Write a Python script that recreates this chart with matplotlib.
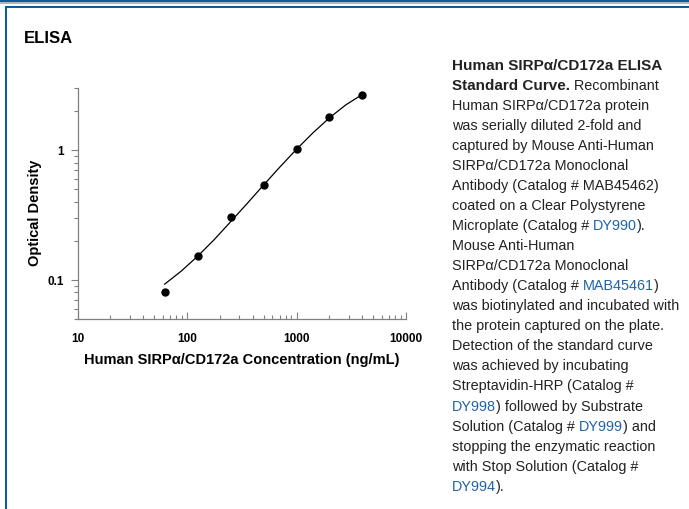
import numpy as np
import matplotlib
matplotlib.use("Agg")
import matplotlib.pyplot as plt
from matplotlib.patches import Rectangle
from matplotlib.ticker import LogLocator, NullFormatter, FixedLocator, FixedFormatter

plt.rcParams['font.family'] = ['Liberation Sans', 'DejaVu Sans']

# Standard points (ng/mL, OD)
conc = [62.5, 125, 250, 500, 1000, 2000, 4000]
od = [0.0814, 0.153, 0.305, 0.535, 1.02, 1.78, 2.67]

# Fitted curve
curve_conc = [62.5, 88.4, 125, 177, 250, 354, 500, 707, 1000, 1414, 2000, 2828, 4000]
curve_od = [0.0927, 0.1167, 0.152, 0.204, 0.280, 0.387, 0.537, 0.741, 1.012, 1.355, 1.770, 2.228, 2.679]

xticks = [10, 100, 1000, 10000]
yticks = [0.1, 1]

BLUE = '#0f5c9c'
LINK = '#1f63a8'
TXT = '#222222'

fig = plt.figure(figsize=(6.89, 5.10), dpi=100)
W, H = 689, 510

def px_rect(x0, y0, x1, y1, color):
    fig.patches.append(Rectangle((x0 / W, 1 - y1 / H), (x1 - x0) / W, (y1 - y0) / H,
                                 transform=fig.transFigure, color=color, lw=0, zorder=0))

# page frame
px_rect(0, 0, W, 3.3, BLUE)
px_rect(0, 3.3, W, 5.3, '#b5b5b5')
px_rect(4.5, 6.7, W, 8.5, BLUE)
px_rect(4.5, 6.7, 6.5, H, BLUE)

fig.text(24 / W, 1 - 38.5 / H, 'ELISA', fontsize=12, fontweight='bold', va='center', ha='left')

# chart
ax = fig.add_axes([77.5 / W, 1 - 320 / H, (406 - 77.5) / W, (320 - 89) / H])
ax.plot(curve_conc, curve_od, color='black', lw=0.9)
ax.plot(conc, od, 'o', color='black', ms=5)
ax.set_xscale('log')
ax.set_yscale('log')
ax.set_xlim(10, 10000)
ax.set_ylim(0.05, 3.0)
for s in ['top', 'right']:
    ax.spines[s].set_visible(False)
for s in ['left', 'bottom']:
    ax.spines[s].set_color('#808080')
    ax.spines[s].set_linewidth(0.9)
ax.xaxis.set_major_locator(FixedLocator(xticks))
ax.xaxis.set_major_formatter(FixedFormatter([str(v) for v in xticks]))
ax.yaxis.set_major_locator(FixedLocator(yticks))
ax.yaxis.set_major_formatter(FixedFormatter(['0.1', '1']))
ax.xaxis.set_minor_locator(LogLocator(base=10, subs=np.arange(2, 10)))
ax.yaxis.set_minor_locator(LogLocator(base=10, subs=np.arange(2, 10)))
ax.xaxis.set_minor_formatter(NullFormatter())
ax.yaxis.set_minor_formatter(NullFormatter())
ax.tick_params(axis='x', which='both', direction='in', color='#808080', pad=9,
               labelsize=8.5, width=0.8)
ax.tick_params(axis='y', which='both', direction='out', color='#808080', pad=5,
               labelsize=8.5, width=0.8)
ax.tick_params(which='major', length=5)
ax.tick_params(which='minor', length=3)
for lab in ax.get_xticklabels() + ax.get_yticklabels():
    lab.set_fontweight('bold')
ax.set_xlabel('Human SIRPα/CD172a Concentration (ng/mL)', fontsize=10.5,
              fontweight='bold', labelpad=6)
fig.text(35 / W, 1 - 212.5 / H, 'Optical Density', fontsize=10.5, fontweight='bold',
         rotation=90, ha='center', va='center')

# caption with mixed styles
caption = [
    [('Human SIRPα/CD172a ELISA', 'b')],
    [('Standard Curve.', 'b'), (' Recombinant', 'n')],
    [('Human SIRPα/CD172a protein', 'n')],
    [('was serially diluted 2-fold and', 'n')],
    [('captured by Mouse Anti-Human', 'n')],
    [('SIRPα/CD172a Monoclonal', 'n')],
    [('Antibody (Catalog # MAB45462)', 'n')],
    [('coated on a Clear Polystyrene', 'n')],
    [('Microplate (Catalog # ', 'n'), ('DY990', 'l'), (').', 'n')],
    [('Mouse Anti-Human', 'n')],
    [('SIRPα/CD172a Monoclonal', 'n')],
    [('Antibody (Catalog # ', 'n'), ('MAB45461', 'l'), (')', 'n')],
    [('was biotinylated and incubated with', 'n')],
    [('the protein captured on the plate.', 'n')],
    [('Detection of the standard curve', 'n')],
    [('was achieved by incubating', 'n')],
    [('Streptavidin-HRP (Catalog #', 'n')],
    [('DY998', 'l'), (') followed by Substrate', 'n')],
    [('Solution (Catalog # ', 'n'), ('DY999', 'l'), (') and', 'n')],
    [('stopping the enzymatic reaction', 'n')],
    [('with Stop Solution (Catalog #', 'n')],
    [('DY994', 'l'), (').', 'n')],
]

renderer = fig.canvas.get_renderer()
x0 = 452
for i, line in enumerate(caption):
    y = 1 - (66 + 20.03 * i) / H
    x = x0
    for text, style in line:
        bold = style == 'b'
        t = fig.text(x / W, y, text, fontsize=11 if bold else 10.4, va='center', ha='left',
                     fontweight='bold' if bold else 'normal',
                     color=LINK if style == 'l' else TXT)
        x += t.get_window_extent(renderer).width

fig.savefig('out.png', dpi=100)
